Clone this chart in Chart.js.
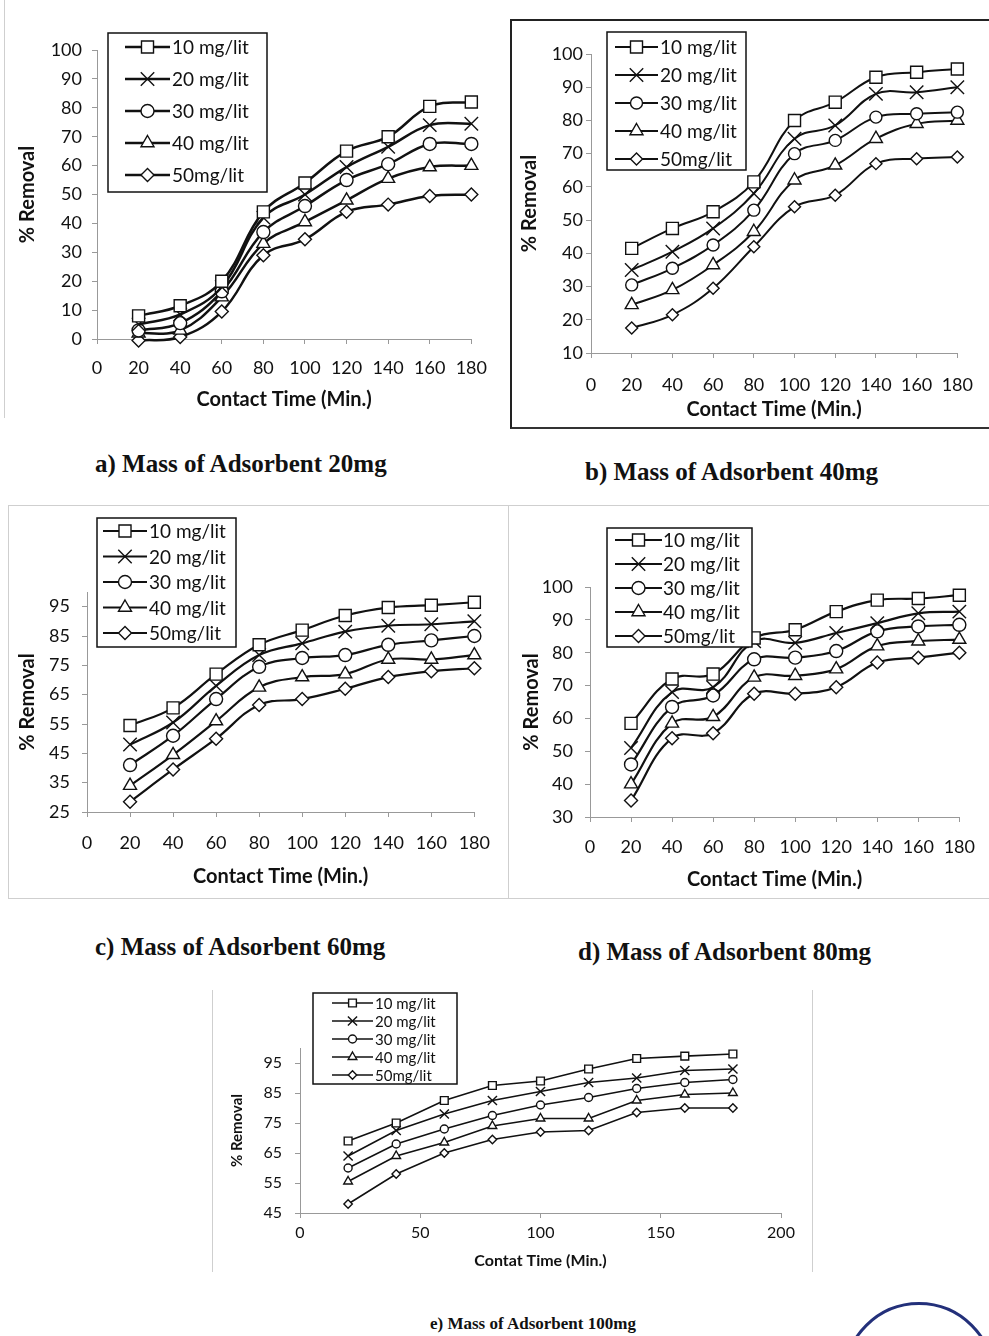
<!DOCTYPE html>
<html>
<head>
<meta charset="utf-8">
<script src="https://cdn.jsdelivr.net/npm/chart.js@4.4.0/dist/chart.umd.min.js"></script>
<style>
    body { margin: 0; background: #fff; width: 989px; height: 1336px; position: relative; overflow: hidden; }
    canvas { position: absolute; z-index: 2; }
    .legenda { position: absolute; font-family: 'Liberation Serif', 'Times New Roman', serif; font-weight: bold; color: #111; white-space: nowrap; line-height: 1; }
    .linha { position: absolute; background: #cfcfcf; }
</style>
</head>
<body>

<div class="linha" style="left:4px; top:0; width:1px; height:418px;"></div>
<div style="position:absolute; left:510px; top:19px; width:500px; height:406px; border-left:2px solid #222; border-top:2px solid #222; border-bottom:2px solid #333;"></div>
<div class="linha" style="left:8px; top:505px; width:981px; height:1px;"></div>
<div class="linha" style="left:8px; top:505px; width:1px; height:393px;"></div>
<div class="linha" style="left:508px; top:505px; width:1px; height:393px;"></div>
<div class="linha" style="left:8px; top:898px; width:981px; height:1px;"></div>
<div class="linha" style="left:212px; top:990px; width:1px; height:282px;"></div>
<div class="linha" style="left:812px; top:990px; width:1px; height:282px;"></div>

<canvas id="graficoA"></canvas>
<canvas id="graficoB"></canvas>
<canvas id="graficoC"></canvas>
<canvas id="graficoD"></canvas>
<canvas id="graficoE"></canvas>

<div class="legenda" style="left:95px; top:451px; font-size:25px;">a) Mass of Adsorbent 20mg</div>
<div class="legenda" style="left:585px; top:459px; font-size:25px;">b) Mass of Adsorbent 40mg</div>
<div class="legenda" style="left:95px; top:934px; font-size:25px;">c) Mass of Adsorbent 60mg</div>
<div class="legenda" style="left:578px; top:939px; font-size:25px;">d) Mass of Adsorbent 80mg</div>
<div class="legenda" style="left:430px; top:1315px; font-size:17px;">e) Mass of Adsorbent 100mg</div>

<div style="position:absolute; left:843px; top:1302px; width:146px; height:146px; border:3px solid #23307a; border-radius:50%;"></div>

<script>
// contact time (min) - same for every panel
const time = [20, 40, 60, 80, 100, 120, 140, 160, 180];
const seriesLabels = ['10 mg/lit', '20 mg/lit', '30 mg/lit', '40 mg/lit', '50mg/lit'];

// % removal, one row per initial concentration (10, 20, 30, 40, 50 mg/lit)
const removal20mg = [
    [8, 11.5, 20, 44, 54, 65, 70, 80.5, 82],
    [5, 8.5, 18, 42, 50, 59.5, 66.5, 74, 74.5],
    [3, 5.5, 16.5, 37, 46, 55, 60.5, 67.5, 67.5],
    [2, 3, 14.5, 33, 40.5, 48, 55.5, 59.5, 60],
    [-0.5, 0.7, 9.5, 29, 34.5, 44, 46.5, 49.5, 50]
];
const removal40mg = [
    [41.5, 47.5, 52.5, 61.5, 80, 85.5, 93, 94.5, 95.5],
    [35, 40.5, 47.5, 58, 74.5, 78.5, 88, 88.5, 90],
    [30.5, 35.5, 42.5, 53, 70, 74, 81, 82, 82.5],
    [24.5, 29, 36.5, 46.5, 62, 66.5, 74.5, 79, 80],
    [17.5, 21.5, 29.5, 42, 54, 57.5, 67, 68.5, 69]
];
const removal60mg = [
    [54.5, 60.5, 72, 82, 87, 92, 94.7, 95.5, 96.5],
    [48, 55.5, 68, 78.5, 82.5, 86.5, 88.5, 89, 90],
    [41, 51, 63.5, 74.5, 77.5, 78.5, 82, 83.5, 85],
    [34, 44.5, 56, 67.5, 71, 72, 77, 77, 78.5],
    [28.5, 39.5, 50, 61.5, 63.5, 67, 71, 73, 74]
];
const removal80mg = [
    [58.5, 72, 73.5, 84.5, 87, 92.5, 96, 96.5, 97.5],
    [51, 68, 69.5, 83.5, 83, 86, 89, 92, 92.5],
    [46, 63.5, 67, 78, 78.5, 80.5, 86.5, 88, 88.5],
    [40, 58.5, 60.5, 72.5, 73, 75, 82, 83.5, 84],
    [35, 54, 55.5, 67.5, 67.5, 69.5, 77, 78.5, 80]
];
const removal100mg = [
    [69, 75, 82.5, 87.5, 89, 93, 96.5, 97.3, 98],
    [64, 72.5, 78, 82.5, 85.5, 88.5, 90, 92.5, 93],
    [60, 68, 73, 77.5, 81, 83.5, 86.5, 88.5, 89.5],
    [55.5, 64, 68.5, 74, 76.5, 76.5, 82.5, 84.5, 85],
    [48, 58, 65, 69.5, 72, 72.5, 78.5, 80, 80]
];

// tick labels
const xTicks180 = [0, 20, 40, 60, 80, 100, 120, 140, 160, 180];
const xTicks200 = [0, 50, 100, 150, 200];
const yTicksA = [0, 10, 20, 30, 40, 50, 60, 70, 80, 90, 100];
const yTicksB = [10, 20, 30, 40, 50, 60, 70, 80, 90, 100];
const yTicksC = [25, 35, 45, 55, 65, 75, 85, 95];
const yTicksD = [30, 40, 50, 60, 70, 80, 90, 100];
const yTicksE = [45, 55, 65, 75, 85, 95];

const markerStyles = ['rect', 'crossRot', 'circle', 'triangle', 'rectRot'];

// legend box drawn like the excel one (box, line sample with marker, text)
const boxLegend = {
    id: 'boxLegend',
    afterDraw: function (chart, args, o) {
        const ctx = chart.ctx;
        ctx.save();
        ctx.fillStyle = '#fff';
        ctx.fillRect(o.x, o.y, o.w, o.h);
        ctx.strokeStyle = '#111';
        ctx.lineWidth = 1.5;
        ctx.strokeRect(o.x, o.y, o.w, o.h);
        chart.data.datasets.forEach(function (ds, i) {
            const cy = o.y + o.first + i * o.step;
            ctx.strokeStyle = '#111';
            ctx.lineWidth = ds.borderWidth;
            ctx.beginPath();
            ctx.moveTo(o.x + o.l0, cy);
            ctx.lineTo(o.x + o.l1, cy);
            ctx.stroke();
            ctx.fillStyle = '#fff';
            ctx.lineWidth = ds.pointBorderWidth;
            Chart.helpers.drawPoint(ctx, {
                pointStyle: ds.pointStyle,
                radius: ds.pointRadius,
                borderWidth: ds.pointBorderWidth,
                rotation: 0
            }, o.x + (o.l0 + o.l1) / 2, cy);
            ctx.fillStyle = '#111';
            ctx.font = o.font;
            ctx.textBaseline = 'middle';
            ctx.textAlign = 'left';
            ctx.fillText(ds.label, o.x + o.tx, cy + 1);
        });
        ctx.restore();
    }
};

function desenharPainel(p) {
    const cv = document.getElementById(p.id);
    cv.style.left = p.box[0] + 'px';
    cv.style.top = p.box[1] + 'px';
    cv.width = p.box[2];
    cv.height = p.box[3];

    // chart area wanted, in page pixels -> sizes inside the canvas
    const yAxisWidth = p.area[0] - p.box[0];
    const padTop = p.area[1] - p.box[1];
    const padRight = p.box[0] + p.box[2] - p.area[2];
    const xAxisHeight = p.box[1] + p.box[3] - p.area[3];

    const datasets = p.values.map(function (serie, i) {
        return {
            label: seriesLabels[i],
            data: time.map(function (t, j) { return { x: t, y: serie[j] }; }),
            borderColor: '#111',
            borderWidth: p.lineWidth,
            pointStyle: markerStyles[i],
            pointRadius: p.marker[i],
            pointBackgroundColor: '#fff',
            pointBorderColor: '#111',
            pointBorderWidth: 1.4,
            tension: p.tension,
            fill: false,
            clip: false
        };
    });

    const config = {
        type: 'line',
        data: { datasets: datasets },
        options: {
            responsive: false,
            animation: false,
            events: [],
            layout: {
                padding: { left: 0, top: padTop, right: padRight, bottom: 0 }
            },
            scales: {
                x: {
                    type: 'linear',
                    min: p.xTicks[0],
                    max: p.xTicks[p.xTicks.length - 1],
                    afterBuildTicks: function (s) { s.ticks = p.xTicks.map(function (v) { return { value: v }; }); },
                    afterFit: function (s) { s.height = xAxisHeight; },
                    ticks: {
                        color: '#111',
                        font: { family: 'Lato', size: p.tickSize },
                        padding: p.xTickPad,
                        maxRotation: 0,
                        autoSkip: false
                    },
                    grid: { drawOnChartArea: false, tickLength: 5, color: '#999' },
                    border: { color: '#999', width: 1 },
                    title: {
                        display: true,
                        text: p.xTitle,
                        color: '#111',
                        font: { family: 'Lato', size: p.titleSize, weight: 'bold' },
                        padding: { top: 0, bottom: p.xTitlePad }
                    }
                },
                y: {
                    type: 'linear',
                    min: p.yMin,
                    max: p.yMax,
                    afterBuildTicks: function (s) { s.ticks = p.yTicks.map(function (v) { return { value: v }; }); },
                    afterFit: function (s) { s.width = yAxisWidth; },
                    ticks: {
                        color: '#111',
                        font: { family: 'Lato', size: p.tickSize },
                        padding: p.yTickPad
                    },
                    grid: { drawOnChartArea: false, tickLength: 5, color: '#999' },
                    border: { color: '#999', width: 1 },
                    title: {
                        display: true,
                        text: '% Removal',
                        color: '#111',
                        font: { family: 'Lato', size: p.yTitleSize, weight: 'bold' },
                        padding: { top: p.yTitlePad, bottom: 0 }
                    }
                }
            },
            plugins: {
                legend: { display: false },
                tooltip: { enabled: false },
                boxLegend: {
                    x: p.legend[0] - p.box[0],
                    y: p.legend[1] - p.box[1],
                    w: p.legend[2],
                    h: p.legend[3],
                    first: p.legendRows[0],
                    step: p.legendRows[1],
                    l0: p.legendRows[2],
                    l1: p.legendRows[3],
                    tx: p.legendRows[4],
                    font: p.legendFont
                }
            }
        },
        plugins: [boxLegend]
    };

    new Chart(cv, config);
}

desenharPainel({
    id: 'graficoA', values: removal20mg,
    box: [0, 0, 500, 420], area: [97, 50, 475, 339],
    xTicks: xTicks180, yTicks: yTicksA, yMin: 0, yMax: 100,
    tickSize: 18, titleSize: 20, yTitleSize: 20,
    xTickPad: 13, yTickPad: 10, xTitlePad: 8, yTitlePad: 16,
    xTitle: 'Contact Time (Min.)',
    lineWidth: 2.5, tension: 0.4, marker: [8.5, 9.5, 6.5, 7.5, 6.5],
    legend: [108, 33, 159, 159], legendRows: [14, 32, 17, 62, 64], legendFont: '19px Lato'
});

desenharPainel({
    id: 'graficoB', values: removal40mg,
    box: [515, 22, 474, 400], area: [591, 54, 970, 353],
    xTicks: xTicks180, yTicks: yTicksB, yMin: 10, yMax: 100,
    tickSize: 18, titleSize: 20, yTitleSize: 20,
    xTickPad: 16, yTickPad: 3, xTitlePad: 0, yTitlePad: 3,
    xTitle: 'Contact Time (Min.)',
    lineWidth: 2, tension: 0.4, marker: [8.5, 9.5, 6, 7.5, 6],
    legend: [607, 32, 139, 138], legendRows: [15, 28, 8, 51, 53], legendFont: '19px Lato'
});

desenharPainel({
    id: 'graficoC', values: removal60mg,
    box: [0, 505, 505, 390], area: [87, 592, 479, 812],
    xTicks: xTicks180, yTicks: yTicksC, yMin: 25, yMax: 100,
    tickSize: 18, titleSize: 20, yTitleSize: 20,
    xTickPad: 15, yTickPad: 12, xTitlePad: 6, yTitlePad: 16,
    xTitle: 'Contact Time (Min.)',
    lineWidth: 2.2, tension: 0.4, marker: [8.5, 9.5, 6.5, 7.5, 6.5],
    legend: [97, 518, 139, 129], legendRows: [13, 25.5, 6, 50, 52], legendFont: '19px Lato'
});

desenharPainel({
    id: 'graficoD', values: removal80mg,
    box: [512, 505, 477, 390], area: [590, 587, 972, 817],
    xTicks: xTicks180, yTicks: yTicksD, yMin: 30, yMax: 100,
    tickSize: 18, titleSize: 20, yTitleSize: 20,
    xTickPad: 14, yTickPad: 12, xTitlePad: 3, yTitlePad: 8,
    xTitle: 'Contact Time (Min.)',
    lineWidth: 2.2, tension: 0.4, marker: [8.5, 9.5, 6.5, 7.5, 6.5],
    legend: [607, 528, 145, 119], legendRows: [12, 24, 8, 55, 56], legendFont: '19px Lato'
});

desenharPainel({
    id: 'graficoE', values: removal100mg,
    box: [212, 985, 600, 290], area: [300, 1048, 781, 1213],
    xTicks: xTicks200, yTicks: yTicksE, yMin: 45, yMax: 100,
    tickSize: 16, titleSize: 16, yTitleSize: 15,
    xTickPad: 5, yTickPad: 13, xTitlePad: 5, yTitlePad: 16,
    xTitle: 'Contat Time (Min.)',
    lineWidth: 1.6, tension: 0, marker: [5.5, 6.5, 4, 5, 4.2],
    legend: [313, 993, 144, 91], legendRows: [10, 18, 19, 60, 62], legendFont: '15px Lato'
});
</script>
</body>
</html>
